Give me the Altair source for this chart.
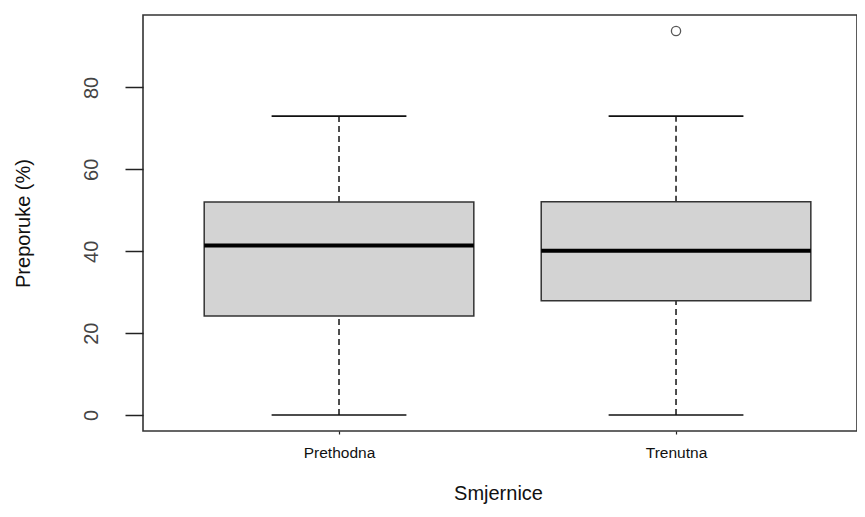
import altair as alt
import pandas as pd

categories = ["Prethodna", "Trenutna"]
positions = [1, 2]
lower_whisker = [0.0, 0.0]
q1 = [24.2, 27.9]
median = [41.4, 40.1]
q3 = [52.0, 52.1]
upper_whisker = [73.0, 73.0]
outlier_cat = ["Trenutna"]
outlier_pos = [2]
outlier_val = [93.8]

y_ticks = [0, 20, 40, 60, 80]

FONT = "Liberation Sans"

df = pd.DataFrame({
    "cat": categories, "pos": positions, "lo": lower_whisker, "q1": q1,
    "med": median, "q3": q3, "hi": upper_whisker,
})
df_out = pd.DataFrame({"cat": outlier_cat, "pos": outlier_pos, "val": outlier_val})

xscale = alt.Scale(domain=[0.4184, 2.537], nice=False, zero=False)
yscale = alt.Scale(domain=[-3.9, 97.7], nice=False, zero=False)

label_expr = "datum.value == 1 ? 'Prethodna' : datum.value == 2 ? 'Trenutna' : ''"

x_axis = alt.Axis(
    values=positions, labelExpr=label_expr, title="Smjernice", grid=False,
    domain=False, tickSize=3, tickColor="#222", tickWidth=1.2,
    labelFont=FONT, labelFontSize=15.5, labelColor="#111", labelPadding=11,
    labelBaseline="top", labelAlign="center",
    titleFont=FONT, titleFontSize=20, titleFontWeight="normal", titleColor="#111",
    titleX=355, titleY=68, titleBaseline="alphabetic", titleAlign="center",
)
y_axis = alt.Axis(
    values=y_ticks, title="Preporuke (%)", grid=False, domain=False,
    tickSize=18, tickColor="#222", tickWidth=1.5,
    labelFont=FONT, labelFontSize=20, labelColor="#444", labelAngle=270,
    labelAlign="center", labelBaseline="alphabetic", labelPadding=28,
    titleFont=FONT, titleFontSize=20, titleFontWeight="normal", titleColor="#111",
    titleAngle=270, titleX=-114, titleY=208, titleAlign="center",
    titleBaseline="alphabetic",
)

base = alt.Chart(df).transform_calculate(
    bl="datum.pos - 0.4", br="datum.pos + 0.4",
    cl="datum.pos - 0.2", cr="datum.pos + 0.2",
)

whisk_up = base.mark_rule(color="#222", strokeWidth=1.6, strokeDash=[6, 4]).encode(
    x=alt.X("pos:Q", scale=xscale, axis=x_axis),
    y=alt.Y("q3:Q", scale=yscale, axis=y_axis),
    y2="hi:Q",
)
whisk_lo = base.mark_rule(color="#222", strokeWidth=1.6, strokeDash=[6, 4]).encode(
    x=alt.X("pos:Q", scale=xscale), y=alt.Y("lo:Q", scale=yscale), y2="q1:Q",
)
cap_up = base.mark_rule(color="#111", strokeWidth=1.6).encode(
    x=alt.X("cl:Q", scale=xscale), x2="cr:Q", y=alt.Y("hi:Q", scale=yscale),
)
cap_lo = base.mark_rule(color="#111", strokeWidth=1.6).encode(
    x=alt.X("cl:Q", scale=xscale), x2="cr:Q", y=alt.Y("lo:Q", scale=yscale),
)
box = base.mark_rect(fill="#d3d3d3", stroke="#333", strokeWidth=1.5).encode(
    x=alt.X("bl:Q", scale=xscale), x2="br:Q",
    y=alt.Y("q1:Q", scale=yscale), y2="q3:Q",
)
med = base.mark_rule(color="#000", strokeWidth=4).encode(
    x=alt.X("bl:Q", scale=xscale), x2="br:Q", y=alt.Y("med:Q", scale=yscale),
)
outl = alt.Chart(df_out).mark_point(
    shape="circle", filled=False, size=85, color="#111", strokeWidth=1.3
).encode(
    x=alt.X("pos:Q", scale=xscale), y=alt.Y("val:Q", scale=yscale),
)

chart = alt.layer(whisk_up, whisk_lo, cap_up, cap_lo, box, med, outl).properties(
    width=714, height=416,
    autosize=alt.AutoSizeParams(type="none"),
    padding={"left": 135, "top": 7, "right": 0, "bottom": 73},
    background="white",
).configure_view(stroke="#333", strokeWidth=1.6)

chart.save("out.html", embed_options={"renderer": "svg", "actions": False})
